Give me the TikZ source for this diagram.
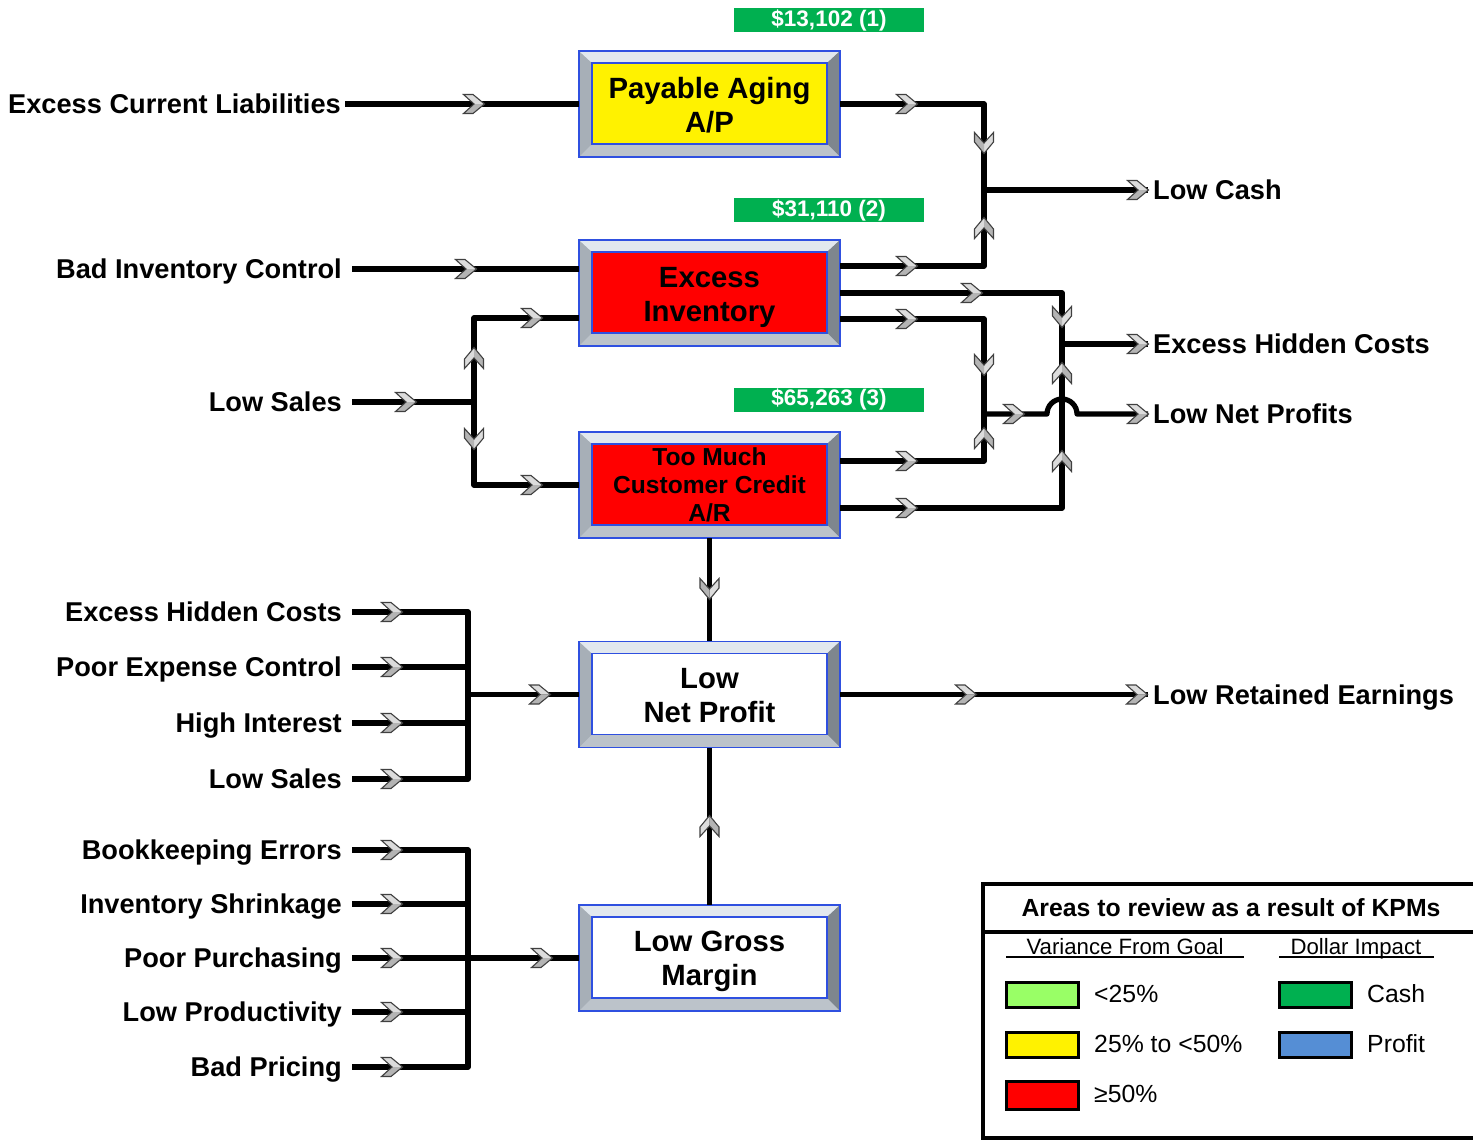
\documentclass[tikz,border=0pt]{standalone}
\usepackage{fontspec}
\setmainfont{Liberation Sans}
\usetikzlibrary{calc}
\definecolor{gbar}{HTML}{00B050}
\definecolor{lgreen}{HTML}{99FF66}
\definecolor{pblue}{HTML}{558ED5}
\definecolor{bvtop}{HTML}{E2E8EE}
\definecolor{bvleft}{HTML}{A7AFB7}
\definecolor{bvright}{HTML}{7E868E}
\definecolor{bvbot}{HTML}{BCC3CA}
\definecolor{bblue}{HTML}{2F50E0}
\definecolor{chevlight}{HTML}{DCDCDC}
\definecolor{chevdark}{HTML}{B4B4B4}
\tikzset{
  conn/.style={line width=5.2pt, line join=round},
  pics/chev/.style={code={
    \fill[chevlight] (-10.5,-9.5) -- (-1,-9.5) -- (10.5,0) -- (0,0) -- cycle;
    \fill[chevdark] (-10.5,9.5) -- (-1,9.5) -- (10.5,0) -- (0,0) -- cycle;
    \draw[black!75, line width=1.1pt, line join=miter] (-10.5,9.5) -- (-1,9.5) -- (10.5,0) -- (-1,-9.5) -- (-10.5,-9.5) -- (0,0) -- cycle;}},
  lbl/.style={font=\fontsize{27.2}{30}\selectfont\bfseries, inner sep=0pt, text height=19.5pt, text depth=0pt},
  leglbl/.style={font=\fontsize{24.8}{28}\selectfont, inner sep=0pt, text height=17.8pt, text depth=0pt},
  boxnode/.style={minimum width=261pt, minimum height=106pt, inner sep=0pt},
  boxtext/.style={inner sep=0pt, align=center, font=\fontsize{29.3}{34}\selectfont\bfseries},
  cashbar/.style={fill=gbar, minimum width=190pt, minimum height=24pt, inner sep=0pt, text=white,
    font=\fontsize{22.5}{24}\selectfont\bfseries},
  swatch/.style={draw=black, line width=3pt, minimum width=72pt, minimum height=25pt, inner sep=0pt},
}
\newcommand\bevbox[6]{%
  \begin{scope}[shift={(#2,#3)}]
    \fill[bvleft] (-130.5,-53) rectangle (130.5,53);
    \fill[bvtop] (-130.5,-53) -- (130.5,-53) -- (117.5,-41) -- (-117.5,-41) -- cycle;
    \fill[bvright] (130.5,-53) -- (130.5,53) -- (117.5,40) -- (117.5,-41) -- cycle;
    \fill[bvbot] (-130.5,53) -- (130.5,53) -- (117.5,40) -- (-117.5,40) -- cycle;
    \draw[bblue, line width=1.2pt] (-130.5,-53) rectangle (130.5,53);
    \draw[bblue, line width=1.2pt, fill=#4] (-117.5,-41) rectangle (117.5,40);
  \end{scope}
  \node[boxnode] (#1) at (#2,#3) {};
  \node[boxtext,#6] (#1t) at (#2,#3) {#5};}
\begin{document}
\begin{tikzpicture}[x=1pt, y=-1pt]
\useasboundingbox (0,0) rectangle (1473,1140);

% ---- boxes
\bevbox{pa}{709.5}{104}{yellow}{Payable Aging\\A/P}{yshift=-1.5pt}
\bevbox{ei}{709.5}{293}{red}{Excess\\Inventory}{yshift=-4.5pt}
\bevbox{tm}{709.5}{485}{red}{Too Much\\Customer Credit\\A/R}{font=\fontsize{24.6}{28}\selectfont\bfseries}
\bevbox{lnp}{709.5}{694.5}{white}{Low\\Net Profit}{yshift=-1.5pt}
\bevbox{lgm}{709.5}{958}{white}{Low Gross\\Margin}{yshift=-3pt}

% ---- dollar bars
\node[cashbar] (c1) at (829,20) {\$13,102 (1)};
\node[cashbar] (c2) at (829,210) {\$31,110 (2)};
\node[cashbar] (c3) at (829,399.5) {\$65,263 (3)};

% ---- left labels
\node[lbl, anchor=east] (l1) at (341,104) {Excess Current Liabilities};
\node[lbl, anchor=east] (l2) at (342,269) {Bad Inventory Control};
\node[lbl, anchor=east] (l3) at (342,402) {Low Sales};
\node[lbl, anchor=east] (l4) at (342,612) {Excess Hidden Costs};
\node[lbl, anchor=east] (l5) at (342,667) {Poor Expense Control};
\node[lbl, anchor=east] (l6) at (342,723) {High Interest};
\node[lbl, anchor=east] (l7) at (342,779) {Low Sales};
\node[lbl, anchor=east] (l8) at (342,850) {Bookkeeping Errors};
\node[lbl, anchor=east] (l9) at (342,904) {Inventory Shrinkage};
\node[lbl, anchor=east] (l10) at (342,958) {Poor Purchasing};
\node[lbl, anchor=east] (l11) at (342,1012) {Low Productivity};
\node[lbl, anchor=east] (l12) at (342,1067) {Bad Pricing};

% ---- right labels
\node[lbl, anchor=west] (r1) at (1153,190) {Low Cash};
\node[lbl, anchor=west] (r2) at (1153,344) {Excess Hidden Costs};
\node[lbl, anchor=west] (r3) at (1153,414) {Low Net Profits};
\node[lbl, anchor=west] (r4) at (1153,694.5) {Low Retained Earnings};

% ---- junctions
\coordinate (jA) at (984,190);
\coordinate (jB) at (1062,344);
\coordinate (jC) at (984,414);
\coordinate (jD) at (474,402);
\coordinate (jE) at (468,694.5);
\coordinate (jF) at (468,958);

% ---- connectors
\draw[conn] ([xshift=4pt]l1.east) -- (pa.west);
\draw[conn] ([xshift=10pt]l2.east) -- (l2.east -| ei.west);
\draw[conn] ([xshift=10pt]l3.east) -- (jD);
\draw[conn] (jD) |- ($(ei.west)+(0,25)$);
\draw[conn] (jD) |- (tm.west);

\draw[conn] (pa.east) -| (jA);
\draw[conn] ($(ei.east)+(0,-27)$) -| (jA);
\draw[conn] (jA) -- ([xshift=-5pt]r1.west);

\draw[conn] (ei.east) -| (jB);
\draw[conn] ($(tm.east)+(0,23)$) -| (jB);
\draw[conn] (jB) -- ([xshift=-5pt]r2.west);

\draw[conn] ($(ei.east)+(0,26)$) -| (jC);
\draw[conn] ($(tm.east)+(0,-24)$) -| (jC);
\draw[conn] (jC) -- ($(jC -| jB)+(-15,0)$) arc[start angle=180, end angle=0, radius=15pt] -- ([xshift=-5pt]r3.west);

\draw[conn] (tm.south) -- (lnp.north);
\draw[conn] (lgm.north) -- (lnp.south);
\draw[conn] (lnp.east) -- ([xshift=-5pt]r4.west);

\draw[conn] ([xshift=10pt]l4.east) -| (l7.east -| jE) -- ([xshift=10pt]l7.east);
\draw[conn] ([xshift=10pt]l5.east) -- (l5.east -| jE);
\draw[conn] ([xshift=10pt]l6.east) -- (l6.east -| jE);
\draw[conn] (jE) -- (lnp.west);

\draw[conn] ([xshift=10pt]l8.east) -| (l12.east -| jF) -- ([xshift=10pt]l12.east);
\draw[conn] ([xshift=10pt]l9.east) -- (l9.east -| jF);
\draw[conn] ([xshift=10pt]l10.east) -- (l10.east -| jF);
\draw[conn] ([xshift=10pt]l11.east) -- (l11.east -| jF);
\draw[conn] (jF) -- (lgm.west);

% ---- chevrons pointing right
\foreach \p in {(474,104),(907,104),(907,266),(972,293),(907,319),(907,461),(907,508),
  (1014,414),(1138,190),(1138,344),(1138,414),(466,269),(406,402),(532,318),(532,485),
  (966,694.5),(1137,694.5),(392,612),(392,667),(392,723),(392,779),(540,694.5),
  (392,850),(392,904),(392,958),(392,1012),(392,1067),(542,958)}
  \pic at \p {chev};
% pointing down
\foreach \p in {(984,143),(1062,317),(984,365),(709.5,589),(474,439)}
  \pic[rotate=-90] at \p {chev};
% pointing up
\foreach \p in {(984,228),(1062,373),(984,438),(1062,461),(474,358),(709.5,826)}
  \pic[rotate=90] at \p {chev};

% ---- legend
\draw[line width=4pt] (1475,884) -- (983,884) -- (983,1138) -- (1475,1138);
\draw[line width=4pt] (983,932) -- (1475,932);
\node[font=\fontsize{24.8}{28}\selectfont\bfseries, inner sep=0pt] (lt) at (1231,907.5) {Areas to review as a result of KPMs};
\node[font=\fontsize{22.2}{26}\selectfont, inner sep=0pt, text height=16pt, text depth=0pt] (lv) at (1125,946) {Variance From Goal};
\node[font=\fontsize{22.2}{26}\selectfont, inner sep=0pt, text height=16pt, text depth=0pt] (ld) at (1356,946) {Dollar Impact};
\draw[line width=2.5pt] (1006,957) -- (1244,957);
\draw[line width=2.5pt] (1279,957) -- (1434,957);
\node[swatch, fill=lgreen] (s1) at (1042,995) {};
\node[swatch, fill=yellow] (s2) at (1042,1044.5) {};
\node[swatch, fill=red, minimum height=28pt] (s3) at (1042,1095.5) {};
\node[swatch, fill=gbar] (s4) at (1315,995) {};
\node[swatch, fill=pblue] (s5) at (1315,1044.5) {};
\node[leglbl, anchor=west] (t1) at (1094,994) {<25\%};
\node[leglbl, anchor=west] (t2) at (1094,1044) {25\% to <50\%};
\node[leglbl, anchor=west] (t3) at (1094,1094) {≥50\%};
\node[leglbl, anchor=west] (t4) at (1367,994) {Cash};
\node[leglbl, anchor=west] (t5) at (1367,1044) {Profit};
\end{tikzpicture}
\end{document}
